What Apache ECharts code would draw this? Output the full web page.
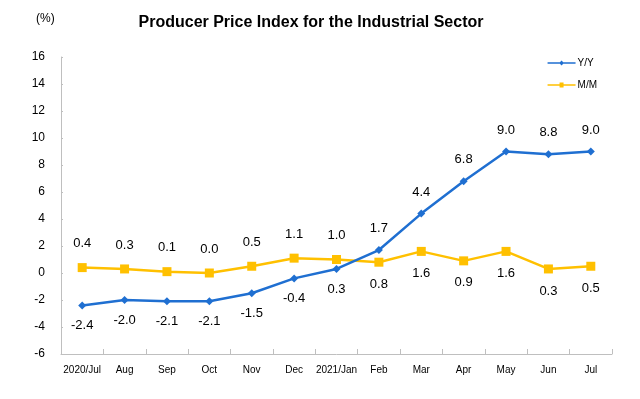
<!DOCTYPE html>
<html>
<head>
<meta charset="utf-8">
<script src="https://cdn.jsdelivr.net/npm/echarts@6/dist/echarts.min.js"></script>
<style>
  html, body { margin: 0; padding: 0; background: #fff; }
  #main { width: 640px; height: 399px; }
</style>
</head>
<body>
<div id="main"></div>
<script>
var months = ['2020/Jul', 'Aug', 'Sep', 'Oct', 'Nov', 'Dec', '2021/Jan', 'Feb', 'Mar', 'Apr', 'May', 'Jun', 'Jul'];
var yoy = [-2.4, -2.0, -2.1, -2.1, -1.5, -0.4, 0.3, 1.7, 4.4, 6.8, 9.0, 8.8, 9.0];
var mom = [0.4, 0.3, 0.1, 0.0, 0.5, 1.1, 1.0, 0.8, 1.6, 0.9, 1.6, 0.3, 0.5];
// from Feb 2021 the labels swap sides
var flipAt = 7;

var font = 'Arial, "Liberation Sans", sans-serif';

function withLabels(values, beforePos, afterPos, dist1, dist2) {
    return values.map(function (v, i) {
        var after = i >= flipAt;
        return {
            value: v,
            label: {
                position: after ? afterPos : beforePos,
                distance: after ? dist2 : dist1
            }
        };
    });
}

var myChart = echarts.init(document.getElementById('main'));
myChart.setOption({
    backgroundColor: '#ffffff',
    animation: false,
    textStyle: { fontFamily: font },
    title: [{
        text: 'Producer Price Index for the Industrial Sector',
        left: 306,
        textAlign: 'center',
        top: 10,
        textStyle: { fontSize: 16, fontWeight: 'bold', color: '#000', fontFamily: font }
    }, {
        text: '(%)',
        left: 31,
        top: 8,
        textStyle: { fontSize: 12, fontWeight: 'normal', color: '#000', fontFamily: font }
    }],
    legend: {
        orient: 'vertical',
        right: 38,
        top: 53,
        itemGap: 12,
        itemWidth: 28,
        itemHeight: 10,
        textStyle: { fontSize: 10, color: '#000', fontFamily: font, padding: [0, 0, 0, -3] },
        data: [
            { name: 'Y/Y', icon: 'path://M0,4.2H28V5.8H0ZM14,2.6L16.4,5L14,7.4L11.6,5Z' },
            { name: 'M/M', icon: 'path://M0,4.2H28V5.8H0ZM12,2.6H16V7.4H12Z' }
        ]
    },
    grid: { left: 61, right: 28, top: 57, bottom: 45 },
    xAxis: {
        type: 'category',
        data: months,
        boundaryGap: true,
        axisLine: { onZero: false, lineStyle: { color: '#bfbfbf', width: 1 } },
        axisTick: { show: true, inside: true, length: 5, lineStyle: { color: '#bfbfbf' } },
        axisLabel: { fontSize: 10, color: '#000', margin: 11, interval: 0, fontFamily: font },
        splitLine: { show: false }
    },
    yAxis: {
        type: 'value',
        min: -6,
        max: 16,
        interval: 2,
        axisLine: { show: true, lineStyle: { color: '#bfbfbf', width: 1 } },
        axisTick: { show: true, inside: true, length: 2, lineStyle: { color: '#bfbfbf' } },
        axisLabel: { fontSize: 12, color: '#000', margin: 16, fontFamily: font },
        splitLine: { show: false }
    },
    series: [{
        name: 'Y/Y',
        type: 'line',
        data: withLabels(yoy, 'bottom', 'top', 10, 11),
        symbol: 'diamond',
        symbolSize: 8,
        lineStyle: { color: '#1f6fd1', width: 2.5 },
        itemStyle: { color: '#1f6fd1' },
        label: {
            show: true,
            fontSize: 13,
            color: '#000',
            fontFamily: font,
            formatter: function (p) { return p.value.toFixed(1); }
        },
        z: 3
    }, {
        name: 'M/M',
        type: 'line',
        data: withLabels(mom, 'top', 'bottom', 13, 11),
        symbol: 'rect',
        symbolSize: 9,
        lineStyle: { color: '#ffc000', width: 2.5 },
        itemStyle: { color: '#ffc000' },
        label: {
            show: true,
            fontSize: 13,
            color: '#000',
            fontFamily: font,
            formatter: function (p) { return p.value.toFixed(1); }
        },
        z: 2
    }]
});
</script>
</body>
</html>
